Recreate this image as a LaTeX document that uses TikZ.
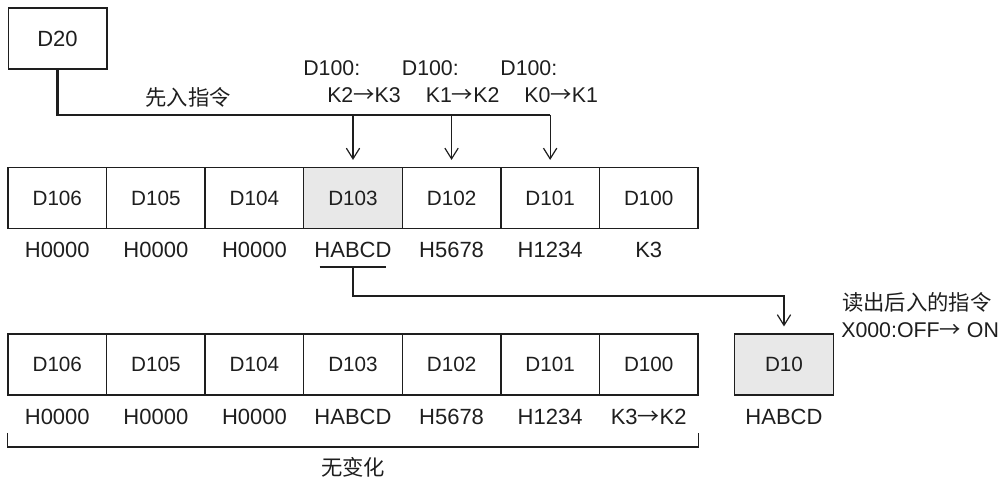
\documentclass[tikz,border=0pt]{standalone}
\usepackage{fontspec}
\setmainfont{Liberation Sans}
\newfontfamily\cjk{Noto Sans CJK SC}
\usetikzlibrary{arrows.meta,positioning}
\definecolor{cellgray}{HTML}{E8E8E8}
\definecolor{ink}{HTML}{1E1E1E}
\newcommand{\goesto}{{\cjk →}}
\tikzset{
  regbox/.style={draw=ink, line width=1.1pt, minimum width=73.9pt, minimum height=46pt, inner sep=0pt, text=ink, font=\fontsize{15.5}{18}\selectfont},
  regval/.style={text=ink, inner sep=0pt, font=\fontsize{16.5}{19}\selectfont},
  note/.style={text=ink, inner sep=0pt, font=\fontsize{16}{19}\selectfont},
  trunk/.style={draw=ink, line width=2pt},
  feed/.style={draw=ink, line width=0.9pt, -{Straight Barb[length=8pt,width=10pt,line width=0.9pt]}},
  rule/.style={draw=ink, line width=1pt}
}

\begin{document}
\begin{tikzpicture}[x=0.75pt,y=-0.75pt]
  \useasboundingbox (0,0) rectangle (1008,484);
  \node[regbox, font=\fontsize{16.5}{19}\selectfont] (d20) at (57.5,38.5) {D20};
  \node[note] (fifo) at (188,97) {\cjk 先入指令};
  \foreach \reg/\val/\shade [count=\i from 0] in {106/H0000/white, 105/H0000/white, 104/H0000/white, 103/HABCD/cellgray, 102/H5678/white, 101/H1234/white, 100/K3/white} {
    \node[regbox, fill=\shade] (top\reg) at ({8+98.57*(\i+0.5)},198) {D\reg};
    \node[regval] (topv\reg) at ({8+98.57*(\i+0.5)},250) {\val};
  }
  \foreach \reg/\val [count=\i from 0] in {106/H0000, 105/H0000, 104/H0000, 103/HABCD, 102/H5678, 101/H1234, 100/K3\goesto K2} {
    \node[regbox, fill=white] (bot\reg) at ({8+98.57*(\i+0.5)},364.5) {D\reg};
    \node[regval] (botv\reg) at ({8+98.57*(\i+0.5)},417) {\val};
  }
  \node[regbox, fill=cellgray] (d10) at (784,364.5) {D10};
  \node[regval] (d10v) at (784,417) {HABCD};
  \foreach \reg/\from/\to/\cx in {103/2/3/353, 102/1/2/451.6, 101/0/1/550.1} {
    \node[note, anchor=west] (head\reg) at ({\cx-50},68) {D100:};
    \node[note, anchor=west] (shift\reg) at ({\cx-26},95) {K\from\goesto K\to};
  }
  \node[note, anchor=west] (pop) at (842,302) {\cjk 读出后入的指令};
  \node[note, anchor=west] (trig) at (841,330) {X000:OFF\goesto\ ON};
  \coordinate (bus) at (0,115);
  \draw[trunk] (d20.south) |- (top101.north |- bus);
  \foreach \reg in {103,102,101}
    \draw[feed] (top\reg.north |- bus) -- ([yshift=5pt]top\reg.north);
  \coordinate (uline) at (0,267);
  \coordinate (ret) at (0,296);
  \draw[rule] (topv103 |- uline) ++(-25pt,0) -- ++(50pt,0);
  \draw[feed] (topv103 |- uline) |- (d10.north |- ret) -- ([yshift=5pt]d10.north);
  \coordinate (tick) at (0,433);
  \coordinate (brace) at (0,447);
  \draw[rule] (bot106.west |- tick) -- (bot106.west |- brace) -- (bot100.east |- brace) -- (bot100.east |- tick);
  \node[note] (same) at (353,467) {\cjk 无变化};
\end{tikzpicture}
\end{document}
